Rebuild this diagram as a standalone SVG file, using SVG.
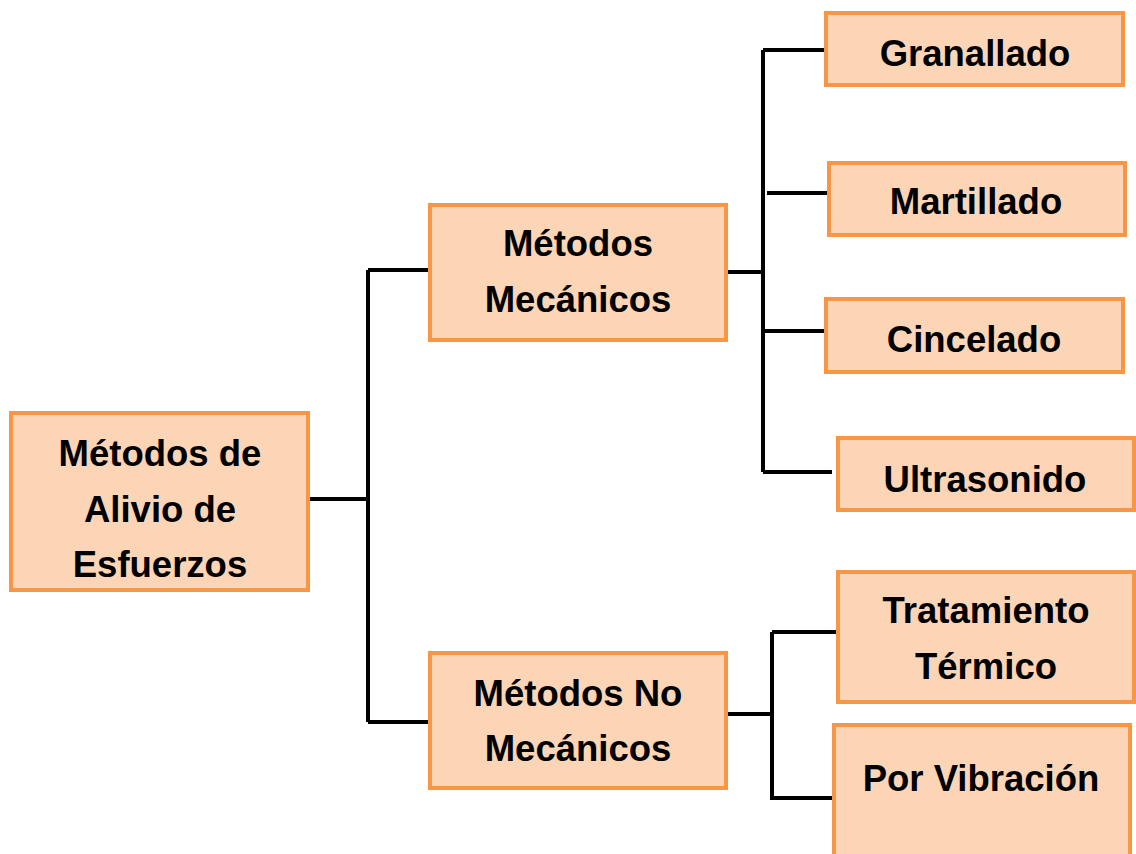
<svg xmlns="http://www.w3.org/2000/svg" width="1136" height="854" viewBox="0 0 1136 854">
<style>
.box{fill:#FBD5B5;stroke:#F79646;stroke-width:4}
.t{font-family:"Liberation Sans",Arial,sans-serif;font-weight:bold;font-size:36.5px;fill:#000;text-anchor:middle}
.c{fill:none;stroke:#000;stroke-width:4;stroke-linecap:butt;stroke-linejoin:miter}
</style>
<rect width="1136" height="854" fill="#fff"/>
<g id="connectors">
<path class="c" d="M302,499 H368 M368,270 V722 M368,270 H432 M368,722 H432"/>
<path class="c" d="M722,272 H765 M763,50 V472 M763,50 H828 M767,193 H832 M763,331 H830 M763,472 H832"/>
<path class="c" d="M724,714 H770 M772,632 V799 M772,632 H838 M770,798 H834"/>
</g>
<g id="root">
<rect class="box" x="11" y="413" width="297" height="177"/>
<text class="t" x="160" y="466">Métodos de</text>
<text class="t" x="160" y="522">Alivio de</text>
<text class="t" x="160" y="577">Esfuerzos</text>
</g>
<g id="mecanicos">
<rect class="box" x="430" y="205" width="296" height="135"/>
<text class="t" x="578" y="256">Métodos</text>
<text class="t" x="578" y="312">Mecánicos</text>
</g>
<g id="nomecanicos">
<rect class="box" x="430" y="653" width="296" height="135"/>
<text class="t" x="578" y="706">Métodos No</text>
<text class="t" x="578" y="761">Mecánicos</text>
</g>
<g id="granallado">
<rect class="box" x="826" y="13" width="297" height="72"/>
<text class="t" x="975" y="66">Granallado</text>
</g>
<g id="martillado">
<rect class="box" x="829" y="163" width="296" height="72"/>
<text class="t" x="976" y="214">Martillado</text>
</g>
<g id="cincelado">
<rect class="box" x="826" y="299" width="297" height="73"/>
<text class="t" x="974" y="352">Cincelado</text>
</g>
<g id="ultrasonido">
<rect class="box" x="838" y="438" width="296" height="72"/>
<text class="t" x="985" y="492">Ultrasonido</text>
</g>
<g id="tratamiento">
<rect class="box" x="838" y="572" width="296" height="130"/>
<text class="t" x="986" y="623">Tratamiento</text>
<text class="t" x="986" y="679">Térmico</text>
</g>
<g id="vibracion">
<rect class="box" x="834" y="725" width="296" height="140"/>
<text class="t" x="981" y="791">Por Vibración</text>
</g>
</svg>
